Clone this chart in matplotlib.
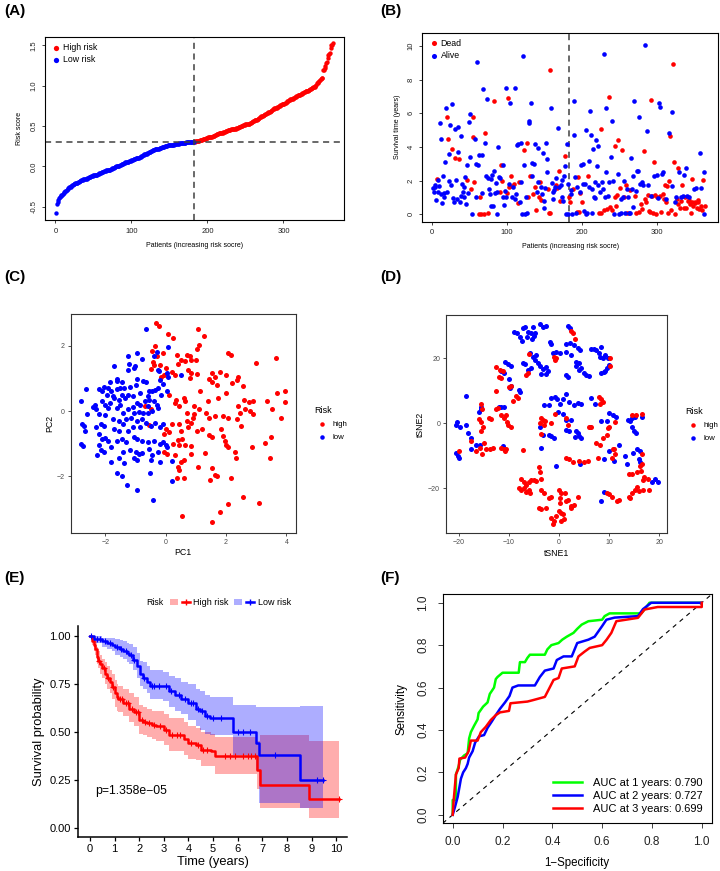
import numpy as np
import matplotlib
matplotlib.use("Agg")
import matplotlib.pyplot as plt
from matplotlib.lines import Line2D
from matplotlib.patches import Patch
from matplotlib.legend_handler import HandlerTuple

plt.rcParams['font.family'] = ['Liberation Sans', 'DejaVu Sans']

RED = '#FF0000'
BLUE = '#0000FF'
GREEN = '#00FF00'

# ---------------- (A) risk score, sorted ----------------
low_scores = [
    -0.58, -0.46, -0.44, -0.41, -0.39, -0.38, -0.37, -0.36, -0.35, -0.34,
    -0.33, -0.32, -0.31, -0.30, -0.29, -0.28, -0.27, -0.26, -0.25, -0.25,
    -0.24, -0.23, -0.23, -0.22, -0.22, -0.21, -0.21, -0.20, -0.20, -0.19,
    -0.19, -0.18, -0.18, -0.17, -0.17, -0.17, -0.16, -0.16, -0.15, -0.15,
    -0.15, -0.14, -0.14, -0.13, -0.13, -0.13, -0.12, -0.12, -0.12, -0.11,
    -0.11, -0.11, -0.10, -0.10, -0.10, -0.09, -0.09, -0.08, -0.08, -0.08,
    -0.07, -0.07, -0.07, -0.06, -0.06, -0.06, -0.05, -0.05, -0.05, -0.04,
    -0.04, -0.04, -0.03, -0.03, -0.02, -0.02, -0.02, -0.01, -0.01, 0.00,
    0.00, 0.01, 0.01, 0.01, 0.02, 0.02, 0.03, 0.03, 0.03, 0.04,
    0.04, 0.05, 0.05, 0.05, 0.06, 0.06, 0.07, 0.07, 0.07, 0.08,
    0.08, 0.08, 0.09, 0.09, 0.09, 0.10, 0.10, 0.10, 0.11, 0.11,
    0.12, 0.12, 0.13, 0.13, 0.14, 0.14, 0.15, 0.15, 0.16, 0.16,
    0.17, 0.17, 0.18, 0.18, 0.18, 0.19, 0.19, 0.20, 0.20, 0.20,
    0.21, 0.21, 0.21, 0.22, 0.22, 0.22, 0.23, 0.23, 0.23, 0.24,
    0.24, 0.24, 0.24, 0.25, 0.25, 0.25, 0.25, 0.26, 0.26, 0.26,
    0.26, 0.27, 0.27, 0.27, 0.27, 0.27, 0.28, 0.28, 0.28, 0.28,
    0.28, 0.28, 0.29, 0.29, 0.29, 0.29, 0.29, 0.29, 0.29, 0.29,
    0.29, 0.30, 0.30, 0.30, 0.30, 0.30, 0.30, 0.30, 0.30, 0.30, 0.30, 0.30,
]
high_scores = [
    0.30, 0.31, 0.31, 0.31, 0.32, 0.32, 0.32, 0.33,
    0.33, 0.33, 0.33, 0.34, 0.34, 0.34, 0.34, 0.35, 0.35, 0.35,
    0.36, 0.36, 0.36, 0.37, 0.37, 0.37, 0.38, 0.38, 0.38, 0.39,
    0.39, 0.40, 0.40, 0.40, 0.41, 0.41, 0.41, 0.42, 0.42, 0.42,
    0.43, 0.43, 0.43, 0.44, 0.44, 0.44, 0.45, 0.45, 0.45, 0.45,
    0.46, 0.46, 0.46, 0.46, 0.47, 0.47, 0.47, 0.48, 0.48, 0.48,
    0.49, 0.49, 0.49, 0.50, 0.50, 0.50, 0.51, 0.51, 0.51, 0.52,
    0.52, 0.52, 0.53, 0.53, 0.53, 0.54, 0.54, 0.55, 0.55, 0.56,
    0.56, 0.57, 0.57, 0.58, 0.58, 0.59, 0.59, 0.60, 0.61, 0.61,
    0.62, 0.62, 0.63, 0.64, 0.64, 0.65, 0.65, 0.66, 0.66, 0.67,
    0.68, 0.68, 0.69, 0.69, 0.70, 0.71, 0.71, 0.72, 0.72, 0.73,
    0.73, 0.74, 0.74, 0.75, 0.75, 0.76, 0.76, 0.77, 0.77, 0.78,
    0.78, 0.79, 0.79, 0.80, 0.81, 0.81, 0.82, 0.82, 0.83, 0.83,
    0.84, 0.84, 0.85, 0.85, 0.86, 0.86, 0.87, 0.87, 0.88, 0.88,
    0.89, 0.89, 0.90, 0.90, 0.91, 0.91, 0.92, 0.92, 0.93, 0.93,
    0.94, 0.94, 0.95, 0.95, 0.96, 0.96, 0.97, 0.97, 0.98, 0.98,
    0.99, 1.00, 1.01, 1.03, 1.04, 1.05, 1.06, 1.07, 1.08, 1.09,
    1.10, 1.19, 1.20, 1.22, 1.25, 1.28, 1.30, 1.34, 1.38, 1.39,
    1.40, 1.47, 1.50, 1.51, 1.53,
]
risk_cutoff = 0.30

# ---------------- (B) survival time by patient (same order) ----------------
surv_time = [
    1.55, 1.3, 1.75, 1.6, 0.85, 2.1, 1.3, 2.05, 1.7, 5.4,
    1.2, 4.45, 0.65, 2.25, 1.25, 1.0, 3.1, 6.3, 1.3, 5.8,
    4.45, 3.6, 2.0, 5.3, 1.75, 3.9, 6.55, 0.95, 0.7, 5.05,
    3.35, 2.05, 0.9, 5.2, 3.7, 3.3, 0.7, 4.65, 1.1, 1.8,
    1.35, 1.6, 1.05, 2.2, 0.6, 2.95, 2.05, 1.25, 5.5, 3.4,
    5.95, 1.5, 0.0, 5.8, 4.6, 1.9, 4.5, 1.05, 3.0, 9.05,
    2.9, 3.5, 0.0, 1.05, 0.0, 1.25, 3.55, 7.45, 0.0, 4.25,
    4.85, 2.25, 6.85, 0.1, 2.15, 1.5, 1.2, 2.1, 0.5, 2.35,
    0.5, 6.7, 2.55, 1.25, 1.85, 0.0, 1.3, 4.0, 2.2, 1.3,
    2.15, 2.95, 1.95, 1.0, 2.95, 0.55, 1.4, 7.5, 1.0, 1.25,
    6.9, 1.8, 1.6, 6.6, 2.3, 1.7, 1.0, 1.6, 1.8, 7.5,
    0.9, 1.2, 4.1, 0.65, 4.15, 1.9, 0.75, 4.25, 1.9, 0.0,
    9.4, 2.95, 3.8, 0.0, 1.05, 0.05, 4.25, 1.0, 5.45, 5.55,
    2.3, 6.6, 2.3, 3.05, 1.2, 3.0, 4.15, 1.6, 0.25, 1.3,
    3.95, 1.9, 1.0, 1.9, 1.6, 0.85, 1.2, 3.65, 0.35, 0.8,
    1.55, 4.25, 3.3, 2.5, 1.5, 0.1, 8.55, 0.05, 6.3, 1.85,
    1.3, 0.9, 1.45, 1.6, 2.15, 1.75, 1.55, 5.1, 2.55, 1.6,
    0.8, 1.75, 1.05, 2.05, 0.8, 2.3, 3.45, 2.85, 0.0, 4.2,
    1.8, 0.0,
    1.05, 0.75, 1.45, 1.2, 0.0, 1.5, 6.7, 4.7,
    2.2, 0.05, 1.6, 0.15, 2.2, 0.15, 1.3, 1.25, 2.95, 0.7,
    3.0, 1.8, 0.2, 1.8, 0.0, 5.0, 0.05, 2.25, 3.15, 1.6,
    6.15, 4.7, 0.1, 1.5, 3.85, 1.0, 1.9, 0.95, 4.4, 2.85,
    4.05, 1.75, 0.1, 1.3, 0.05, 5.05, 1.9, 1.5, 0.25, 9.5,
    1.05, 2.5, 6.3, 0.3, 1.1, 6.95, 1.9, 0.45, 3.4, 0.25,
    5.55, 2.0, 0.0, 1.0, 4.05, 0.5, 1.15, 2.4, 4.4, 0.0,
    1.55, 0.9, 0.05, 3.8, 1.05, 1.0, 1.95, 0.1, 1.75, 1.5,
    0.1, 1.0, 0.1, 1.45, 0.05, 3.35, 1.5, 0.45, 2.3, 6.75,
    1.1, 1.4, 0.1, 2.6, 2.55, 0.15, 5.75, 1.8, 0.6, 1.9,
    0.3, 1.75, 3.75, 0.9, 10.05, 0.75, 4.95, 1.15, 1.75, 0.2,
    0.15, 6.8, 1.1, 1.1, 0.1, 2.3, 3.1, 1.15, 0.0, 2.35,
    1.0, 0.95, 6.6, 1.1, 6.35, 0.15, 2.4, 1.2, 2.5, 0.9,
    1.75, 0.7, 0.9, 1.7, 0.05, 2.0, 4.85, 4.65, 0.25, 6.05,
    1.7, 8.9, 3.1, 0.7, 0.0, 1.0, 0.9, 2.75, 0.6, 2.5,
    0.35, 1.0, 0.8, 1.75, 1.1, 2.35, 0.4, 1.0, 2.75, 0.35,
    1.1, 0.8, 0.85, 1.0, 0.6, 0.1, 2.1, 0.75, 0.5, 1.5,
    0.65, 0.75, 1.55, 0.35, 0.75, 0.85, 0.3, 3.65, 1.55, 0.5,
    0.25, 2.05, 2.5, 0.0, 0.5,
]
# D = dead, A = alive
surv_status = "".join([
    "AAAAADAAAA", "AAAAAAAAAD", "DAAAADAAAA", "DAAAADAAAA", "AAAAAADAAA",
    "ADADDDAAAA", "AADDDAAADA", "DAADAAAAAA", "ADAAAAAAAD", "ADDAAAAAAD",
    "DADADDAADA", "AAADADAAAA", "AADAAADDAA", "DAAADAADDA", "AADDADAAAA",
    "AAAADDDDAA", "AAAAADDADA", "DAAAAADAAA", "AA",
    "DDAAADAA", "AAADDDADAD", "AAAAAAADAA", "AAAAAAAAAA", "AADADDAADA",
    "AAADADADAD", "AAADDDDADA", "DAADADAADA", "DAADAAAAAA", "DADAADAADA",
    "DADDADADAD", "DDADDADDDA", "DAADADADAD", "DDADDDADDA", "ADDADADDDA",
    "DADDAADDAD", "ADDADDDDDA", "DDADDDDAAD", "DDAAD",
])

# ---------------- (C) PCA ----------------
pca_low = [
    (-0.66, 2.50), (0.09, 1.97), (-0.94, 1.79), (-1.26, 1.69), (-0.30, 1.82), (-0.40, 1.70),
    (-1.23, 1.45), (-1.26, 1.25), (-1.06, 1.33), (-1.03, 1.38), (-0.80, 1.60), (-1.70, 1.39),
    (-0.27, 1.27), (-0.21, 1.22), (0.05, 1.15), (0.50, 1.10), (-0.18, 0.95), (0.07, 1.04),
    (-0.10, 0.82), (-0.25, 0.70), (-1.60, 0.98), (-1.62, 0.92), (-1.45, 0.88), (-1.85, 0.90),
    (-0.95, 0.98), (-0.75, 0.92), (-0.65, 0.90), (-1.00, 0.80), (-1.20, 0.75), (-1.38, 0.72),
    (-1.52, 0.70), (-1.62, 0.68), (-1.90, 0.70), (-2.05, 0.75), (-2.10, 0.60), (-2.20, 0.68),
    (-2.64, 0.67), (-1.80, 0.62), (-0.55, 0.60), (-0.45, 0.60), (-0.35, 0.65), (0.05, 0.60),
    (-0.15, 0.50), (-0.60, 0.45), (-0.85, 0.55), (-1.95, 0.50), (-1.75, 0.45), (-1.70, 0.40),
    (-1.55, 0.35), (-1.35, 0.40), (-1.45, 0.48), (-1.25, 0.50), (-1.08, 0.45), (-2.10, 0.30),
    (-2.00, 0.20), (-2.35, 0.20), (-2.40, 0.12), (-2.80, 0.31), (-2.30, 0.05), (-1.85, 0.25),
    (-1.60, 0.10), (-1.50, 0.20), (-1.90, 0.10), (-0.95, 0.25), (-0.85, 0.20), (-0.70, 0.30),
    (-0.55, 0.35), (-0.40, 0.30), (-0.30, 0.20), (-0.25, 0.10), (-0.60, 0.15), (-1.10, 0.12),
    (-1.25, 0.05), (-1.05, -0.05), (-0.90, -0.02), (-0.75, -0.05), (-0.60, -0.05), (-0.45, 0.00),
    (-1.40, -0.05), (-2.20, -0.10), (-2.00, -0.12), (-2.60, -0.10), (-2.76, -0.40), (-2.70, -0.45),
    (-2.68, -0.60), (-2.30, -0.50), (-2.15, -0.40), (-2.05, -0.45), (-1.75, -0.25), (-1.55, -0.30),
    (-1.40, -0.40), (-1.30, -0.25), (-1.15, -0.20), (-0.95, -0.30), (-0.80, -0.25), (-0.65, -0.35),
    (-0.50, -0.45), (-0.35, -0.35), (-0.20, -0.50), (-0.10, -0.40), (-0.85, -0.50), (-1.10, -0.50),
    (-1.25, -0.60), (-1.55, -0.60), (-1.70, -0.55), (-2.20, -0.70), (-2.00, -0.82), (-2.10, -0.85),
    (-1.90, -0.90), (-2.80, -1.00), (-2.75, -1.06), (-2.22, -1.05), (-2.15, -1.20), (-2.28, -1.35),
    (-2.05, -1.25), (-1.80, -1.10), (-1.60, -0.90), (-1.45, -0.85), (-1.30, -0.95), (-1.05, -0.80),
    (-0.95, -0.85), (-0.80, -0.90), (-0.60, -0.95), (-0.40, -0.90), (-0.10, -0.95), (0.00, -1.05),
    (0.05, -1.10), (-0.20, -1.00), (-1.80, -1.55), (-1.55, -1.45), (-1.40, -1.25), (-1.20, -1.20),
    (-1.00, -1.25), (-0.90, -1.30), (-0.80, -1.28), (-1.05, -1.45), (-0.95, -1.50), (-0.55, -1.15),
    (-0.45, -1.35), (-0.25, -1.25), (-0.50, -1.50), (-0.20, -1.55), (0.20, -1.53), (-1.60, -1.90),
    (-1.45, -2.00), (-1.27, -2.25), (-0.96, -2.40), (-0.52, -1.90), (-0.43, -2.72), (0.22, -2.13),
    (-1.38, -1.60),
]
pca_high = [
    (-0.32, 2.68), (-0.22, 2.60), (0.08, 2.35), (0.25, 2.25), (1.07, 2.52), (1.27, 2.30),
    (1.10, 2.02), (1.05, 1.90), (-0.35, 1.98), (-0.45, 1.85), (-0.30, 1.70), (-0.10, 1.78),
    (0.36, 1.72), (0.70, 1.73), (0.80, 1.68), (0.85, 1.55), (0.65, 1.52), (1.02, 1.55),
    (0.50, 1.55), (0.40, 1.45), (-0.42, 1.50), (-0.38, 1.42), (-0.48, 1.28), (-0.20, 1.40),
    (0.00, 1.32), (0.20, 1.20), (0.30, 1.10), (-0.05, 1.10), (-0.15, 1.05), (0.75, 1.25),
    (0.85, 1.15), (1.05, 1.12), (1.55, 1.15), (1.65, 1.05), (1.45, 0.98), (1.80, 1.20),
    (2.08, 1.78), (2.15, 1.72), (2.00, 1.10), (2.40, 1.05), (2.35, 0.95), (2.55, 0.78),
    (2.20, 0.85), (1.70, 0.80), (1.55, 0.90), (0.80, 1.02), (3.00, 1.47), (3.66, 1.62),
    (3.95, 0.60), (3.70, 0.55), (3.97, 0.28), (3.35, 0.30), (3.53, 0.07), (3.82, -0.20),
    (2.90, 0.30), (2.75, 0.28), (2.60, 0.35), (2.62, 0.05), (2.40, 0.15), (2.45, -0.05),
    (2.80, 0.00), (2.88, -0.08), (2.00, 0.55), (1.72, 0.40), (1.40, 0.30), (1.15, 0.60),
    (0.60, 0.40), (0.35, 0.35), (0.30, 0.25), (0.65, 0.30), (0.45, 0.15), (0.10, 0.50),
    (-0.70, 0.15), (-0.50, 0.07), (-0.55, -0.42), (0.95, 0.15), (1.10, 0.05), (0.70, -0.05),
    (0.95, -0.10), (1.35, -0.05), (1.45, -0.20), (1.65, -0.15), (1.90, -0.15), (2.05, -0.20),
    (2.35, -0.25), (2.50, -0.45), (0.85, -0.35), (0.70, -0.30), (0.45, -0.40), (0.20, -0.40),
    (0.10, -0.65), (0.50, -0.60), (0.75, -0.50), (1.20, -0.55), (0.90, -0.20), (0.55, -0.85),
    (0.40, -0.88), (0.65, -1.05), (0.45, -1.05), (0.85, -1.08), (1.05, -0.60), (1.45, -0.72),
    (1.55, -0.80), (1.82, -0.55), (1.90, -0.75), (1.95, -0.90), (2.00, -1.05), (2.05, -1.10),
    (1.30, -1.28), (0.85, -1.32), (0.60, -1.50), (0.50, -1.55), (0.40, -1.70), (0.30, -1.35),
    (0.05, -1.30), (-0.05, -1.25), (1.08, -1.70), (1.55, -1.75), (1.70, -2.00), (1.65, -1.95),
    (1.48, -2.10), (2.15, -2.05), (0.37, -2.05), (0.62, -2.05), (0.45, -1.80), (2.30, -1.25),
    (2.32, -1.45), (2.85, -1.10), (3.30, -0.98), (3.50, -0.80), (3.45, -1.45), (2.56, -2.63),
    (3.10, -2.82), (2.05, -2.85), (1.80, -3.10), (0.55, -3.20), (1.53, -3.40), (0.25, -1.00),
    (-0.05, -0.70), (0.00, -0.55),
]

# ---------------- (D) tSNE ----------------
tsne_low = [
    (-9.0, 28.2), (-8.4, 27.7), (-7.7, 26.7), (-7.2, 29.2), (-6.7, 29.5), (-6.1, 28.2),
    (-5.6, 27.9), (-5.2, 29.7), (-4.7, 27.7), (-3.7, 30.4), (-3.2, 29.7), (-2.5, 29.9),
    (-7.4, 25.4), (-6.3, 26.5), (-5.4, 25.8), (-5.0, 27.0), (-7.2, 18.5), (-6.8, 18.2),
    (-5.8, 21.5), (-5.2, 20.5), (-4.8, 19.5), (-4.2, 18.5), (-3.8, 17.5), (-3.2, 16.8),
    (-2.6, 17.2), (-2.2, 16.0), (-3.5, 15.2), (-2.5, 15.2), (-4.5, 21.0), (-5.5, 17.0),
    (-6.2, 16.5), (-1.8, 25.0), (-1.5, 24.5), (-1.2, 21.5), (-0.5, 22.0), (0.2, 21.5),
    (1.8, 29.8), (2.2, 29.2), (1.5, 24.5), (2.2, 24.8), (3.0, 24.0), (3.8, 23.2),
    (4.2, 22.5), (1.5, 22.0), (2.5, 21.0), (3.5, 19.0), (4.0, 18.5), (3.5, 17.5),
    (4.0, 16.5), (4.5, 17.0), (5.0, 15.5), (5.5, 14.8), (6.0, 14.5), (1.5, 15.0),
    (1.8, 14.2), (6.5, 22.8), (7.0, 22.8), (7.5, 22.5), (8.0, 21.5), (8.5, 23.5),
    (8.2, 20.5), (8.7, 20.0), (9.2, 21.0), (9.8, 20.2), (9.5, 17.0), (9.2, 16.0),
    (8.5, 15.5), (9.0, 15.8), (10.0, 18.0), (-10.8, 19.0), (-10.2, 18.2), (-9.5, 17.5),
    (-11.5, 16.0), (-11.0, 15.5), (-10.0, 13.5), (-9.5, 11.5), (-8.0, 10.2), (-7.8, 9.5),
    (-12.0, 5.0), (-11.5, 5.0), (-11.0, 5.0), (-9.8, 11.0), (-18.5, 8.5), (-20.3, 0.5),
    (-20.5, -0.5), (-19.8, -1.0), (-18.5, -0.5), (-18.2, -3.0), (-17.5, -4.5), (-16.5, -6.5),
    (-15.5, 5.0), (-16.0, 3.5), (-15.5, 4.5), (-20.5, -9.0), (-20.2, -10.0), (-20.0, -10.5),
    (-17.5, -8.0), (-15.8, -6.8), (-11.2, -7.0), (-3.0, 5.5), (-2.0, 5.5), (-1.5, 7.8),
    (-0.8, 8.0), (-0.3, 7.5), (0.3, 6.0), (0.8, 7.5), (1.5, 9.0), (2.0, 6.5),
    (3.0, 5.5), (3.8, 6.2), (4.5, 6.0), (6.5, 7.8), (7.2, 6.0), (-0.2, 3.5),
    (0.8, 3.0), (1.5, 1.0), (2.5, 1.0), (-3.8, -1.0), (-3.2, -3.5), (-2.0, -3.5),
    (-1.5, -4.0), (-1.0, -4.5), (1.5, -2.0), (2.0, -2.5), (3.5, -2.5), (3.8, -3.0),
    (4.0, -4.0), (4.5, -4.5), (3.2, -4.2), (6.2, -1.0), (-3.5, -7.5), (-0.5, -13.0),
    (8.5, 0.8), (9.5, 0.8), (10.0, 3.2), (10.8, 2.5), (11.3, 2.0), (13.8, 1.0),
    (14.5, 1.5), (14.2, 0.8), (15.2, 2.0), (16.5, 2.0), (14.5, -1.0), (15.0, -2.5),
    (15.3, -3.0), (10.0, -8.5), (9.0, -11.0), (11.0, -11.5), (12.0, -6.5), (13.2, -10.0),
    (13.5, -12.5), (14.8, -9.0), (15.5, -8.0), (16.2, -8.5), (16.0, -11.0), (16.2, -12.0),
    (18.5, -18.0), (19.2, -17.0), (19.8, -18.0), (9.0, -21.0), (8.5, -24.0), (4.3, -12.5),
]
tsne_high = [
    (-12.5, 17.2), (-11.8, 16.5), (-11.2, 16.0), (-12.0, 14.2), (-11.5, 13.8), (-12.5, 10.0),
    (-10.0, 11.2), (-9.5, 11.5), (-9.2, 6.8), (-8.5, 8.5), (-8.2, 7.8), (-12.5, 4.5),
    (-12.2, 4.8), (-11.5, 2.5), (-11.0, 1.5), (-10.5, 2.5), (-10.3, 0.5), (-10.2, -0.5),
    (-9.5, -1.2), (-11.5, -7.5), (-11.0, -7.8), (-10.5, -7.8), (-10.8, -8.5), (-7.2, -8.2),
    (-15.5, 5.8), (-15.3, 4.3), (-16.0, 1.2), (-15.5, 0.5), (-15.2, -1.0), (-15.5, -2.5),
    (-14.0, 1.5), (-13.5, 1.2), (-20.0, -8.5), (-17.5, -5.5), (-16.5, -8.5), (-15.8, -7.5),
    (-15.0, -6.0), (-15.3, -9.5), (-14.5, -8.0), (-13.8, -7.8), (-13.2, -7.5), (-3.5, 1.8),
    (-3.2, 1.0), (-3.8, 0.2), (-3.0, -0.5), (-2.8, 0.8), (-1.5, 0.2), (-0.8, 2.8),
    (1.5, 1.5), (1.8, -0.5), (-3.5, -3.2), (-6.0, 21.2), (-6.2, 15.5), (-6.5, 15.0),
    (-1.0, 20.5), (-0.8, 19.5), (-0.5, 20.0), (2.5, 28.5), (2.8, 27.8), (3.2, 26.0),
    (10.2, 20.0), (10.2, 17.5), (8.0, 8.0), (8.5, 7.5), (8.8, 6.5), (8.2, 6.0),
    (7.5, -6.0), (8.2, -6.5), (8.8, -4.5), (9.5, -3.5), (9.8, -1.5), (10.0, -1.0),
    (11.2, 0.3), (6.0, -1.2), (6.5, -1.0), (7.8, -10.8), (10.5, -10.5), (11.0, -8.0),
    (11.2, -9.5), (10.8, -8.0), (14.5, 2.5), (15.3, 2.5), (16.5, 3.0), (14.0, -15.5),
    (14.5, -15.5), (15.5, -14.8), (16.5, -12.5), (16.5, -9.5), (16.2, -13.0), (16.3, -14.5),
    (17.0, -16.5), (16.8, -17.5), (17.8, -17.2), (18.0, -20.5), (15.5, -19.5), (15.2, -20.5),
    (16.0, -20.8), (16.8, -20.5), (14.0, -22.5), (14.5, -21.5), (14.2, -23.0), (12.0, -23.5),
    (11.5, -23.8), (10.5, -22.5), (10.0, -21.8), (9.5, -21.5), (1.5, -10.5), (2.0, -11.0),
    (2.8, -11.8), (4.0, -11.5), (5.0, -11.8), (5.8, -11.5), (-7.5, -17.0), (-7.0, -18.0),
    (-6.5, -19.0), (-6.0, -18.0), (-5.5, -17.5), (-5.0, -17.5), (-4.5, -17.8), (-3.5, -17.0),
    (-4.0, -13.5), (-3.8, -15.0), (-8.0, -20.0), (-7.5, -20.5), (-7.0, -20.0), (-6.5, -21.0),
    (-6.0, -20.5), (-5.8, -21.5), (-3.5, -20.5), (-3.0, -21.5), (-2.0, -23.0), (-1.5, -22.5),
    (-4.0, -26.0), (-3.5, -26.2), (-2.5, -26.0), (-1.5, -29.2), (-1.0, -30.0), (-1.2, -31.0),
    (-0.5, -28.5), (0.0, -20.5), (0.5, -21.5), (0.3, -24.5), (0.0, -27.0), (0.5, -27.5),
    (0.8, -28.0), (1.0, -29.5), (0.5, -30.0), (1.5, -24.0), (1.8, -23.5), (2.5, -26.0),
    (2.5, -25.5), (3.0, -25.0), (3.8, -22.5), (1.2, -21.5), (0.2, -23.0),
]

# ---------------- (E) Kaplan-Meier ----------------
km_high_t = [0, 0.1, 0.15, 0.2, 0.27, 0.33, 0.4, 0.5, 0.6, 0.7, 0.81, 0.9, 1.0, 1.1, 1.15,
             1.35, 1.6, 1.8, 2.0, 2.15, 2.3, 2.5, 2.7, 3.0, 3.2, 3.8, 4.0, 4.3, 4.5, 4.9,
             5.07, 6.8, 6.9, 8.9, 10.1]
km_high_s = [1.0, 0.97, 0.95, 0.93, 0.89, 0.87, 0.85, 0.83, 0.80, 0.78, 0.76, 0.73, 0.70,
             0.68, 0.67, 0.65, 0.62, 0.60, 0.56, 0.55, 0.545, 0.535, 0.53, 0.51, 0.485, 0.46,
             0.44, 0.43, 0.405, 0.40, 0.372, 0.30, 0.22, 0.147, 0.147]
km_high_lo = [1.0, 0.95, 0.92, 0.90, 0.85, 0.83, 0.80, 0.78, 0.75, 0.72, 0.70, 0.67, 0.63,
              0.61, 0.60, 0.58, 0.55, 0.53, 0.49, 0.48, 0.47, 0.46, 0.45, 0.43, 0.40, 0.38,
              0.36, 0.35, 0.32, 0.32, 0.28, 0.20, 0.10, 0.05, 0.05]
km_high_hi = [1.0, 0.99, 0.98, 0.97, 0.94, 0.92, 0.90, 0.88, 0.86, 0.84, 0.82, 0.80, 0.77,
              0.75, 0.74, 0.72, 0.70, 0.68, 0.64, 0.63, 0.62, 0.61, 0.61, 0.59, 0.57, 0.55,
              0.53, 0.52, 0.50, 0.49, 0.47, 0.45, 0.48, 0.45, 0.45]
km_low_t = [0, 0.15, 0.5, 0.7, 0.9, 1.0, 1.2, 1.35, 1.5, 1.6, 1.75, 1.9, 2.03, 2.15, 2.3,
            2.43, 2.97, 3.2, 3.45, 3.7, 4.0, 4.32, 4.46, 4.66, 4.86, 5.81, 6.75, 6.87, 8.51, 9.45]
km_low_s = [1.0, 0.98, 0.97, 0.96, 0.95, 0.94, 0.93, 0.92, 0.91, 0.90, 0.875, 0.84, 0.80,
            0.78, 0.76, 0.74, 0.735, 0.71, 0.69, 0.67, 0.65, 0.62, 0.605, 0.583, 0.571, 0.50,
            0.44, 0.377, 0.25, 0.25]
km_low_lo = [1.0, 0.96, 0.94, 0.93, 0.92, 0.90, 0.89, 0.88, 0.86, 0.85, 0.82, 0.78, 0.74,
             0.72, 0.70, 0.67, 0.66, 0.63, 0.61, 0.59, 0.56, 0.53, 0.51, 0.49, 0.48, 0.38,
             0.30, 0.13, 0.10, 0.10]
km_low_hi = [1.0, 1.0, 0.99, 0.99, 0.985, 0.98, 0.975, 0.97, 0.96, 0.955, 0.94, 0.91, 0.87,
             0.86, 0.84, 0.82, 0.81, 0.79, 0.78, 0.76, 0.75, 0.72, 0.71, 0.69, 0.68, 0.64,
             0.63, 0.63, 0.635, 0.635]
cens_high = [0.35, 0.55, 0.75, 0.95, 1.2, 1.3, 1.45, 1.55, 1.7, 1.85, 1.95, 2.1, 2.25, 2.4,
             2.6, 2.85, 3.1, 3.35, 3.55, 3.65, 4.1, 4.4, 4.6, 4.75, 5.5, 5.7, 5.9, 6.2, 6.4,
             6.55, 6.7, 10.1]
cens_low = [0.05, 0.3, 0.4, 0.6, 0.8, 1.1, 1.25, 1.45, 1.65, 1.8, 2.2, 2.5, 2.6, 2.8, 3.1,
            3.3, 3.6, 3.85, 4.1, 4.2, 4.4, 4.55, 4.75, 5.0, 5.3, 6.0, 6.2, 6.5, 7.5, 9.2, 9.45]
p_value_text = "p=1.358e\u221205"

# ---------------- (F) time-dependent ROC ----------------
roc_years = [1, 2, 3]
roc_auc = [0.790, 0.727, 0.699]
roc_fpr = [
    [0, 0, 0.013, 0.013, 0.024, 0.03, 0.046, 0.06, 0.066, 0.073, 0.086, 0.10, 0.104, 0.122,
     0.14, 0.149, 0.166, 0.173, 0.18, 0.20, 0.265, 0.27, 0.29, 0.30, 0.31, 0.37, 0.38, 0.396,
     0.425, 0.44, 0.458, 0.485, 0.50, 0.518, 0.545, 0.60, 0.61, 0.63, 0.757, 0.77, 0.79, 1.0],
    [0, 0.009, 0.02, 0.027, 0.033, 0.042, 0.053, 0.06, 0.066, 0.08, 0.09, 0.106, 0.126, 0.14,
     0.157, 0.173, 0.19, 0.21, 0.228, 0.24, 0.263, 0.33, 0.35, 0.37, 0.405, 0.418, 0.445,
     0.478, 0.50, 0.545, 0.57, 0.60, 0.617, 0.65, 0.744, 0.764, 0.797, 1.0],
    [0, 0.004, 0.013, 0.024, 0.027, 0.05, 0.064, 0.073, 0.10, 0.113, 0.133, 0.153, 0.173, 0.19,
     0.226, 0.232, 0.30, 0.32, 0.37, 0.385, 0.405, 0.425, 0.438, 0.49, 0.505, 0.53, 0.55, 0.60,
     0.618, 0.637, 0.657, 0.744, 0.77, 0.823, 1.0, 1.0],
]
roc_tpr = [
    [0, 0.07, 0.07, 0.19, 0.23, 0.26, 0.28, 0.29, 0.36, 0.39, 0.42, 0.45, 0.48, 0.51, 0.53,
     0.57, 0.60, 0.64, 0.65, 0.67, 0.67, 0.72, 0.72, 0.74, 0.755, 0.755, 0.78, 0.80, 0.81,
     0.826, 0.84, 0.858, 0.877, 0.897, 0.913, 0.92, 0.937, 0.95, 0.95, 0.968, 1.0, 1.0],
    [0, 0.036, 0.084, 0.13, 0.17, 0.20, 0.22, 0.24, 0.27, 0.30, 0.34, 0.37, 0.376, 0.41, 0.44,
     0.47, 0.50, 0.53, 0.56, 0.60, 0.61, 0.61, 0.65, 0.68, 0.69, 0.73, 0.747, 0.747, 0.81,
     0.826, 0.84, 0.89, 0.92, 0.93, 0.937, 0.97, 1.0, 1.0],
    [0, 0.068, 0.19, 0.22, 0.265, 0.27, 0.30, 0.35, 0.35, 0.39, 0.415, 0.447, 0.47, 0.483,
     0.49, 0.526, 0.534, 0.54, 0.556, 0.59, 0.636, 0.645, 0.69, 0.70, 0.747, 0.77, 0.787,
     0.80, 0.826, 0.858, 0.913, 0.929, 0.968, 0.98, 0.98, 1.0],
]
roc_colors = [GREEN, BLUE, RED]


def base_r(ax, size=5.5, length=2.5, pad=3):
    for s in ax.spines.values():
        s.set_linewidth(0.8)
        s.set_color('black')
    ax.tick_params(direction='out', length=length, width=0.6, labelsize=size,
                   colors='#222222', pad=pad)
    ax.tick_params(axis='y', labelrotation=90)
    for lab in ax.get_yticklabels():
        lab.set_va('center')


def gg_bw(ax):
    for s in ax.spines.values():
        s.set_linewidth(0.8)
        s.set_color('#333333')
    ax.tick_params(direction='out', length=2.2, width=0.6, labelsize=5,
                   colors='#333333', labelcolor='#4D4D4D', pad=2)


fig = plt.figure(figsize=(7.2, 8.71), dpi=100)

# ---- A ----
axA = fig.add_axes([0.0625, 0.7474, 0.4153, 0.2101])
n_low = len(low_scores)
xa_low = np.arange(1, n_low + 1)
xa_high = np.arange(n_low + 1, n_low + len(high_scores) + 1)
axA.scatter(xa_high, high_scores, s=10, color=RED, linewidths=0, label='High risk')
axA.scatter(xa_low, low_scores, s=10, color=BLUE, linewidths=0, label='Low risk')
axA.axvline(n_low + 0.5, color='#404040', lw=1.1, ls=(0, (4, 3)))
axA.axhline(risk_cutoff, color='#404040', lw=1.1, ls=(0, (4, 3)))
axA.set_xlim(-13.6, 379.6)
axA.set_ylim(-0.664, 1.604)
axA.set_xticks([0, 100, 200, 300])
axA.set_yticks([-0.5, 0.0, 0.5, 1.0, 1.5], labels=['-0.5', '0.0', '0.5', '1.0', '1.5'])
axA.set_xlabel('Patients (increasing risk socre)', fontsize=5, labelpad=5)
axA.set_ylabel('Risk score', fontsize=5, labelpad=5)
base_r(axA)
axA.legend(loc='upper left', frameon=False, fontsize=6.3, handletextpad=0.2,
           borderaxespad=0.3, labelspacing=0.35, markerscale=1.2, handlelength=1.2)

# ---- B ----
axB = fig.add_axes([0.5865, 0.7455, 0.4111, 0.2170])
st = np.array(surv_time)
dead = np.array([c == 'D' for c in surv_status])
xb = np.arange(1, len(st) + 1)
axB.scatter(xb[dead], st[dead], s=11, color=RED, linewidths=0, label='Dead', zorder=3)
axB.scatter(xb[~dead], st[~dead], s=11, color=BLUE, linewidths=0, label='Alive', zorder=3)
axB.axvline(n_low + 0.5, color='#404040', lw=1.1, ls=(0, (4, 3)))
axB.set_xlim(-13.4, 382.5)
axB.set_ylim(-0.44, 10.79)
axB.set_xticks([0, 100, 200, 300])
axB.set_yticks([0, 2, 4, 6, 8, 10])
axB.set_xlabel('Patients (increasing risk socre)', fontsize=5, labelpad=5)
axB.set_ylabel('Survival time (years)', fontsize=5, labelpad=5)
base_r(axB)
axB.legend(loc='upper left', frameon=False, fontsize=6.3, handletextpad=0.2,
           borderaxespad=0.3, labelspacing=0.35, markerscale=1.1, handlelength=1.2)

# ---- C ----
axC = fig.add_axes([0.0982, 0.3884, 0.3129, 0.2511])
pl = np.array(pca_low)
ph = np.array(pca_high)
axC.scatter(ph[:, 0], ph[:, 1], s=13, color=RED, linewidths=0, label='high')
axC.scatter(pl[:, 0], pl[:, 1], s=13, color=BLUE, linewidths=0, label='low')
axC.set_xlim(-3.15, 4.32)
axC.set_ylim(-3.72, 2.97)
axC.set_xticks([-2, 0, 2, 4])
axC.set_yticks([-2, 0, 2])
axC.set_xlabel('PC1', fontsize=6.3, labelpad=2)
axC.set_ylabel('PC2', fontsize=6.3, labelpad=2)
gg_bw(axC)
axC.legend(title='Risk', loc='center left', bbox_to_anchor=(1.05, 0.5), frameon=False,
           fontsize=5.7, title_fontsize=6.5, alignment='left', handletextpad=0.3,
           labelspacing=0.7, markerscale=0.9)

# ---- D ----
axD = fig.add_axes([0.6194, 0.3877, 0.3066, 0.2506])
tl = np.array(tsne_low)
th = np.array(tsne_high)
axD.scatter(tl[:, 0], tl[:, 1], s=13, color=BLUE, linewidths=0, label='low')
axD.scatter(th[:, 0], th[:, 1], s=13, color=RED, linewidths=0, label='high')
axD.set_xlim(-22.5, 21.5)
axD.set_ylim(-33.8, 33.3)
axD.set_xticks([-20, -10, 0, 10, 20])
axD.set_yticks([-20, 0, 20])
axD.set_xlabel('tSNE1', fontsize=6.3, labelpad=2)
axD.set_ylabel('tSNE2', fontsize=6.3, labelpad=2)
gg_bw(axD)
hD, lD = axD.get_legend_handles_labels()
axD.legend(hD[::-1], lD[::-1], title='Risk', loc='center left', bbox_to_anchor=(1.05, 0.5),
           frameon=False, fontsize=5.7, title_fontsize=6.5, alignment='left',
           handletextpad=0.3, labelspacing=0.7, markerscale=0.9)

# ---- E ----
axE = fig.add_axes([0.1079, 0.0387, 0.3745, 0.2426])


def step_at(t, s, q):
    idx = np.searchsorted(np.asarray(t), q, side='right') - 1
    return np.asarray(s)[idx]


axE.fill_between(km_high_t, km_high_lo, km_high_hi, step='post', color=RED, alpha=0.32, lw=0)
axE.fill_between(km_low_t, km_low_lo, km_low_hi, step='post', color=BLUE, alpha=0.32, lw=0)
axE.step(km_high_t, km_high_s, where='post', color=RED, lw=1.8)
axE.step(km_low_t, km_low_s, where='post', color=BLUE, lw=1.8)
axE.plot(cens_high, step_at(km_high_t, km_high_s, cens_high), ls='none', marker='+',
         ms=4, mew=0.8, color=RED)
axE.plot(cens_low, step_at(km_low_t, km_low_s, cens_low), ls='none', marker='+',
         ms=4, mew=0.8, color=BLUE)
axE.text(0.2, 0.19, p_value_text, fontsize=8.8, va='center', ha='left')
axE.set_xlim(-0.5, 10.45)
axE.set_ylim(-0.05, 1.05)
axE.set_xticks(range(0, 11))
axE.set_yticks([0, 0.25, 0.5, 0.75, 1.0], labels=['0.00', '0.25', '0.50', '0.75', '1.00'])
axE.spines['top'].set_visible(False)
axE.spines['right'].set_visible(False)
for s in ('left', 'bottom'):
    axE.spines[s].set_linewidth(1.1)
axE.tick_params(direction='out', length=3, width=0.9, labelsize=8, colors='black', pad=2)
axE.set_xlabel('Time (years)', fontsize=9.3, labelpad=1)
axE.set_ylabel('Survival probability', fontsize=9.3, labelpad=3)
hE = [(Patch(facecolor=RED, alpha=0.32, lw=0), Line2D([], [], color=RED, lw=1.8, marker='+', ms=4)),
      (Patch(facecolor=BLUE, alpha=0.32, lw=0), Line2D([], [], color=BLUE, lw=1.8, marker='+', ms=4))]
fig.legend(hE, ['High risk', 'Low risk'], loc='center', bbox_to_anchor=(0.32, 0.308), ncol=2,
           frameon=False, fontsize=6.5, handler_map={tuple: HandlerTuple(ndivide=None)},
           handlelength=2.2, handletextpad=0.4, columnspacing=0.6)
fig.text(146 / 720, 0.308, 'Risk', fontsize=6.3, va='center', ha='left')

# ---- F ----
axF = fig.add_axes([0.6149, 0.0548, 0.3736, 0.2629])
axF.axline((0, 0), (1, 1), color='black', lw=0.8, ls=(0, (4, 4)))
for fpr, tpr, col, yr, auc in zip(roc_fpr, roc_tpr, roc_colors, roc_years, roc_auc):
    axF.plot(fpr, tpr, color=col, lw=1.8, label=f'AUC at {yr} years: {auc:.3f}')
axF.set_xlim(-0.04, 1.04)
axF.set_ylim(-0.04, 1.04)
axF.set_xticks(np.arange(0, 1.01, 0.2), labels=['0.0', '0.2', '0.4', '0.6', '0.8', '1.0'])
axF.set_yticks(np.arange(0, 1.01, 0.2), labels=['0.0', '0.2', '0.4', '0.6', '0.8', '1.0'])
axF.set_xlabel('1\u2212Specificity', fontsize=8.3, labelpad=6)
axF.set_ylabel('Sensitivity', fontsize=8.3, labelpad=7)
base_r(axF, size=8.5, length=3.5, pad=6)
axF.legend(loc='lower right', frameon=False, fontsize=8, handlelength=2.6,
           borderaxespad=0.4, labelspacing=0.3, handletextpad=1.0)

# panel letters
for lab, x, y in [('(A)', 0.006, 0.987), ('(B)', 0.528, 0.987), ('(C)', 0.006, 0.682),
                  ('(D)', 0.528, 0.682), ('(E)', 0.006, 0.336), ('(F)', 0.528, 0.336)]:
    fig.text(x, y, lab, fontsize=11, fontweight='bold', va='center', ha='left')

fig.savefig('out.png', dpi=100)
